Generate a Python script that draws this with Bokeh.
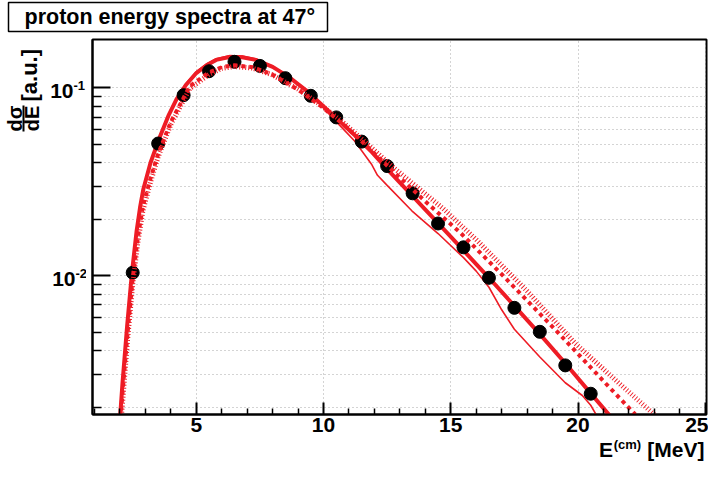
from math import pi, log10
from bokeh.plotting import figure
from bokeh.layouts import column, row
from bokeh.models import Range1d, FixedTicker
from bokeh.core.properties import value
from bokeh.embed import file_html
from bokeh.resources import INLINE

# ---------------- data ----------------
E_data = [2.5, 3.5, 4.5, 5.5, 6.5, 7.5, 8.5, 9.5, 10.5, 11.5,
          12.5, 13.5, 14.5, 15.5, 16.5, 17.5, 18.5, 19.5, 20.5]
sig_data = [0.0104, 0.0506, 0.0915, 0.1227, 0.1377, 0.131, 0.1127, 0.0908, 0.0697, 0.0518,
            0.0384, 0.0275, 0.0190, 0.01419, 0.00977, 0.00676, 0.00504, 0.00334, 0.00236]

# thick solid model
E_thick = [1.95, 2.10, 2.28, 2.47, 2.65, 2.79, 2.92, 3.20, 3.57, 3.90, 4.22, 4.60, 5.00,
           5.40, 5.78, 6.30, 6.80, 7.33, 8.00, 8.63, 9.30, 9.93, 10.60, 11.23, 11.90,
           12.52, 13.50, 14.50, 15.50, 16.50, 17.50, 18.50, 19.50, 20.50, 21.35]
sig_thick = [0.0014, 0.0027, 0.0054, 0.0104, 0.0172, 0.0232, 0.0290, 0.0400, 0.0550, 0.0710,
             0.0870, 0.1040, 0.1200, 0.1320, 0.1410, 0.1460, 0.1455, 0.1410, 0.1295, 0.1145,
             0.0975, 0.0815, 0.0670, 0.0560, 0.0455, 0.0368, 0.0266, 0.0191, 0.01365,
             0.00977, 0.00692, 0.0049, 0.00343, 0.00237, 0.00174]

# thin solid model
E_thin = [1.95, 2.10, 2.28, 2.47, 2.65, 2.79, 2.92, 3.20, 3.57, 3.90, 4.22, 4.60, 5.00,
          5.40, 5.78, 6.30, 6.80, 7.33, 8.00, 8.63, 9.30, 9.93, 10.60, 11.23, 11.90,
          12.12, 12.50, 13.47, 14.50, 15.50, 16.00, 16.50, 17.00, 17.50, 18.50, 19.50,
          20.17, 20.50, 20.90]
sig_thin = [0.0014, 0.0028, 0.0056, 0.0107, 0.0177, 0.0238, 0.0298, 0.0405, 0.0560, 0.0720,
            0.0880, 0.1060, 0.1220, 0.1340, 0.1430, 0.1485, 0.1480, 0.1430, 0.1305, 0.1145,
            0.0965, 0.0800, 0.0640, 0.0520, 0.0390, 0.0343, 0.0303, 0.0222, 0.0168, 0.0125,
            0.0106, 0.0087, 0.0066, 0.0052, 0.0037, 0.0027, 0.00231, 0.00205, 0.00165]

# thick dashed model
E_dash = [1.95, 2.10, 2.30, 2.50, 2.70, 2.90, 3.20, 3.50, 4.00, 4.74, 5.50, 6.00, 6.49,
          7.20, 7.98, 9.00, 9.93, 10.80, 11.60, 12.77, 14.07, 15.37, 17.00, 19.15, 21.20, 22.25]
sig_dash = [0.0013, 0.0024, 0.0050, 0.0097, 0.0160, 0.0235, 0.0330, 0.0445, 0.0660, 0.1020,
            0.1210, 0.1290, 0.1320, 0.1290, 0.1180, 0.0980, 0.0795, 0.0635, 0.0505, 0.0356,
            0.0244, 0.0170, 0.0102, 0.0051, 0.00258, 0.00183]

# dotted model
E_dot = [1.97, 2.10, 2.30, 2.50, 2.70, 2.90, 3.20, 3.50, 4.00, 4.74, 5.50, 6.00, 6.49,
         7.20, 7.98, 9.00, 9.93, 10.80, 11.60, 12.77, 13.43, 14.70, 16.00, 18.00, 19.90,
         21.50, 23.05]
sig_dot = [0.0013, 0.0021, 0.0046, 0.0090, 0.0150, 0.0222, 0.0315, 0.0430, 0.0640, 0.0990,
           0.1180, 0.1270, 0.1300, 0.1275, 0.1175, 0.0985, 0.0805, 0.0650, 0.0520, 0.0375,
           0.0316, 0.0228, 0.0156, 0.0083, 0.00436, 0.00277, 0.00180]

x_major = [5, 10, 15, 20, 25]
x_minor = [1, 2, 3, 4, 6, 7, 8, 9, 11, 12, 13, 14, 16, 17, 18, 19, 21, 22, 23, 24]
y_major = [0.01, 0.1]
y_major_labels = [("10", "-2"), ("10", "-1")]
y_minor = [0.002, 0.003, 0.004, 0.005, 0.006, 0.007, 0.008, 0.009,
           0.02, 0.03, 0.04, 0.05, 0.06, 0.07, 0.08, 0.09]

title_text = "proton energy spectra at 47°"

# ---------------- layout geometry (pixels) ----------------
TOP_H = 38
LEFT_W = 86
MAIN_W, MAIN_H = 622, 400
BOT_H = 23
ML, MR, MT, MB = 6, 2, 1, 24
FRAME_H = MAIN_H - MT - MB
Y0, Y1 = 0.00183, 0.181
RED = "#ee1c25"
FONT = "Liberation Sans"


def strip(w, h):
    f = figure(width=w, height=h, x_range=Range1d(0, w), y_range=Range1d(0, h),
               min_border=0, x_axis_location=None, y_axis_location=None,
               toolbar_location=None, output_backend="svg")
    f.outline_line_color = None
    f.background_fill_color = "white"
    f.border_fill_color = "white"
    f.grid.visible = False
    return f


def txt(f, h, x, y, s, size, align="left", angle=0.0):
    # (x, y): text anchor; y is the vertical middle of the text, measured from the top
    f.text(x=[x], y=[h - y], text=[s], text_font=value(FONT), text_font_style="bold",
           text_font_size=value(f"{size}px"), text_color="black",
           text_align=align, text_baseline="middle", angle=angle)


# ---------------- main plot ----------------
p = figure(width=MAIN_W, height=MAIN_H, x_range=Range1d(0.92, 25.05), y_range=Range1d(Y0, Y1),
           y_axis_type="log", output_backend="svg", toolbar_location=None,
           min_border_left=ML, min_border_right=MR, min_border_top=MT, min_border_bottom=MB)
p.background_fill_color = "white"
p.border_fill_color = "white"
p.outline_line_color = "black"
p.outline_line_width = 2

p.xaxis.ticker = FixedTicker(ticks=x_major, minor_ticks=x_minor)
yt = FixedTicker(ticks=y_major, minor_ticks=y_minor)
p.yaxis.ticker = yt
p.xgrid.ticker = FixedTicker(ticks=x_major)
p.ygrid.ticker = yt

for g in (p.xgrid, p.ygrid):
    g.grid_line_color = "#a8a8a8"
    g.grid_line_dash = "1 3"
    g.grid_line_width = 1
p.ygrid.minor_grid_line_color = "#a8a8a8"
p.ygrid.minor_grid_line_dash = "1 3"
p.ygrid.minor_grid_line_width = 1

for ax in (p.xaxis, p.yaxis):
    ax.axis_line_color = "black"
    ax.axis_line_width = 2
    ax.major_tick_line_color = "black"
    ax.minor_tick_line_color = "black"
    ax.major_tick_line_width = 2
    ax.minor_tick_line_width = 1.5
    ax.major_tick_out = 0
    ax.minor_tick_out = 0

p.xaxis.major_tick_in = 12
p.xaxis.minor_tick_in = 6
p.yaxis.major_tick_in = 18
p.yaxis.minor_tick_in = 9

p.xaxis.major_label_text_font = FONT
p.xaxis.major_label_text_font_style = "bold"
p.xaxis.major_label_text_font_size = "21px"
p.xaxis.major_label_text_color = "black"
p.xaxis.major_label_standoff = 3
p.yaxis.major_label_text_font_size = "0px"
p.yaxis.major_label_text_color = None
p.yaxis.major_label_standoff = 0

p.line(E_thin, sig_thin, line_color=RED, line_width=1.6)
p.line(E_thick, sig_thick, line_color=RED, line_width=4)
p.scatter(E_data, sig_data, size=13, marker="circle", fill_color="black", line_color="black")
p.line(E_dash, sig_dash, line_color=RED, line_width=4, line_dash="4 4")
p.line(E_dot, sig_dot, line_color=RED, line_width=5, line_dash="1 2")

# ---------------- title strip ----------------
top = strip(LEFT_W + MAIN_W, TOP_H)
top.quad(left=[8], right=[327], top=[TOP_H - 2], bottom=[TOP_H - 31],
         fill_color="white", line_color="black", line_width=1.5)
txt(top, TOP_H, 24, 16.5, title_text, 21.5)

# ---------------- left strip (y title and y tick labels) ----------------
LEFT_H = MAIN_H + BOT_H
left = strip(LEFT_W, LEFT_H)


def ypix(v):  # vertical position in the left strip
    return MT + FRAME_H * (log10(Y1) - log10(v)) / (log10(Y1) - log10(Y0))


for v, (base, sup) in zip(y_major, y_major_labels):
    t = ypix(v)
    rx = 73 if sup == "-1" else 75
    txt(left, LEFT_H, rx, t + 3.2, base, 21, align="right")
    txt(left, LEFT_H, rx, t - 2.5, sup, 13)

Y_OFF = TOP_H   # the left strip starts at this page row
txt(left, LEFT_H, 29, 101 - Y_OFF, "[a.u.]", 22, angle=pi / 2)
txt(left, LEFT_H, 14, 118 - Y_OFF, "d\u03c3", 20, align="center", angle=pi / 2)
txt(left, LEFT_H, 31, 118 - Y_OFF, "dE", 20, align="center", angle=pi / 2)
left.segment(x0=[23], y0=[LEFT_H - (105 - Y_OFF)], x1=[23], y1=[LEFT_H - (131 - Y_OFF)],
             line_color="black", line_width=2)

# ---------------- bottom strip (x title) ----------------
bot = strip(MAIN_W, BOT_H)
txt(bot, BOT_H, 706 - LEFT_W, 11, "[MeV]", 21, align="right")
txt(bot, BOT_H, 599 - LEFT_W, 11, "E", 21)
txt(bot, BOT_H, 614 - LEFT_W, 6, "(cm)", 13)

layout = column(top, row(left, column(p, bot, spacing=0), spacing=0), spacing=0)

open("out.html", "w").write(file_html(layout, INLINE))
